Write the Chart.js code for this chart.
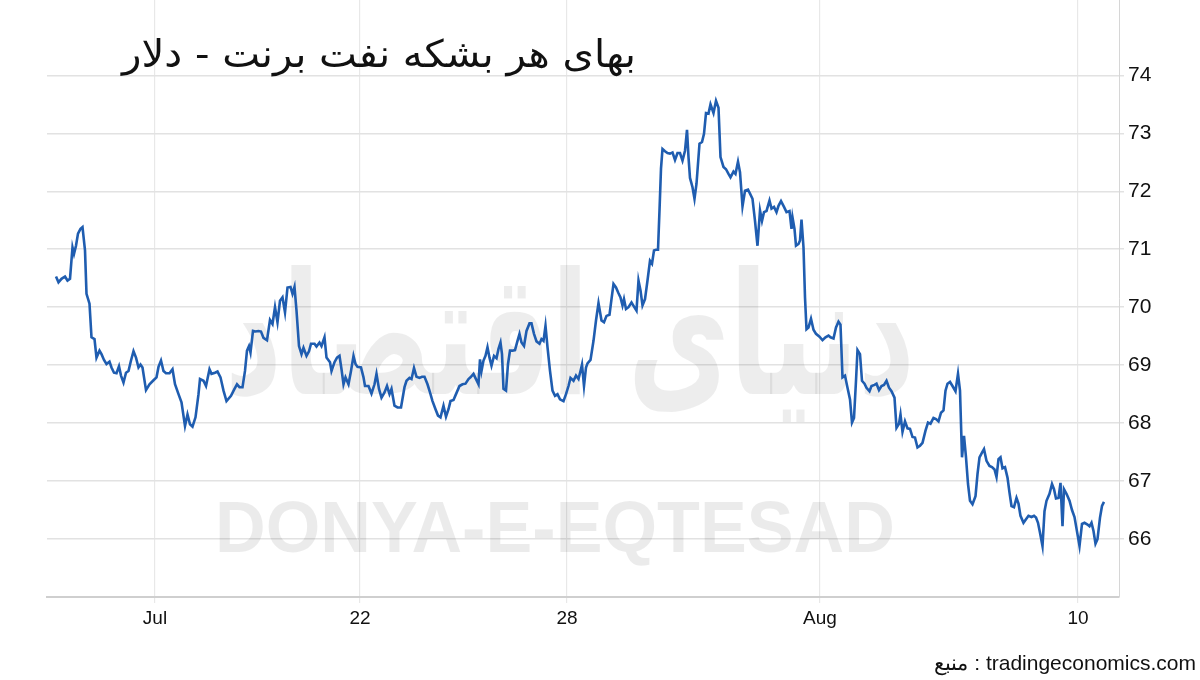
<!DOCTYPE html>
<html>
<head>
<meta charset="utf-8">
<script src="https://cdn.jsdelivr.net/npm/chart.js@4.4.1/dist/chart.umd.min.js"></script>
<style>
  html, body { margin: 0; padding: 0; background: #fff; }
  #wrap { width: 1200px; height: 680px; position: relative; }
</style>
</head>
<body>
<div id="wrap"><canvas id="myChart" width="1200" height="680"></canvas></div>
<script>
// time index (one unit ~ a few trading hours) and Brent price
const times = [
  0.2,0.7,1.3,2.0,2.5,3.0,3.5,3.8,4.2,4.6,5.1,5.5,6.0,6.3,6.9,7.3,7.9,8.3,8.9,9.3,9.8,10.3,10.9,11.3,11.8,12.3,12.8,13.2,13.7,14.2,14.7,15.2,15.7,16.2,16.7,17.1,17.5,18.2,18.9,19.7,
  20.3,20.7,21.2,21.7,22.2,22.9,23.5,24.0,24.7,25.3,26.0,26.5,27.0,27.5,28.1,28.7,29.0,29.7,30.2,30.9,31.3,32.0,32.5,33.1,33.7,34.3,35.2,35.9,36.4,36.9,
  37.5,38.0,38.4,38.8,39.1,39.6,40.1,40.7,41.2,41.7,42.4,43.0,43.5,44.0,44.5,45.0,45.5,46.0,46.5,47.1,47.5,47.9,48.3,48.8,49.3,49.7,50.3,50.8,51.2,51.9,
  52.3,52.9,53.3,53.9,54.3,55.0,55.3,55.9,56.4,56.9,57.3,57.7,58.1,58.7,59.2,59.7,60.1,60.5,61.2,61.7,62.0,62.7,63.3,63.9,64.3,64.8,65.3,65.9,66.4,66.9,
  67.3,67.9,68.5,69.2,69.9,70.3,70.9,71.3,71.8,72.3,72.9,73.4,73.9,74.5,75.0,75.5,76.1,76.6,77.1,77.7,78.2,78.7,79.1,79.7,80.2,80.9,81.5,82.1,82.7,83.1,
  83.7,84.2,84.7,85.0,85.3,85.7,86.1,86.5,86.9,87.3,87.8,88.3,88.7,89.1,89.4,89.7,90.2,90.6,91.0,91.5,92.0,92.5,92.9,93.3,93.8,94.3,94.9,95.3,95.8,96.3,
  96.9,97.3,97.7,98.1,98.5,99.0,99.5,100.0,100.5,101.0,101.7,102.2,102.7,103.1,103.7,104.2,104.7,105.1,105.4,105.8,106.2,106.5,107.1,107.7,108.2,108.7,109.3,109.8,110.3,110.9,
  111.3,111.7,112.2,112.7,113.1,113.5,113.8,114.2,114.7,115.3,115.8,116.3,116.7,117.1,117.5,118.0,118.5,119.0,119.4,119.8,120.2,120.6,120.9,121.2,121.5,122.0,122.5,123.0,123.5,124.0,
  124.5,125.0,125.5,126.0,126.4,126.7,127.0,127.5,127.9,128.3,128.9,129.4,129.8,130.2,130.7,131.1,131.7,132.2,132.7,133.1,133.7,134.2,134.7,135.1,135.7,136.1,136.6,137.0,137.5,138.0,
  138.6,139.0,139.5,140.0,140.5,141.0,141.4,141.8,142.3,142.9,143.3,143.8,144.3,144.7,145.2,145.8,146.3,146.9,147.3,147.5,147.9,148.2,148.7,149.0,149.3,149.7,150.0,150.3,150.7,151.2,
  151.7,152.2,152.9,153.5,154.1,154.7,155.1,155.7,156.2,156.7,157.1,157.5,158.0,158.5,159.0,159.4,159.8,160.2,160.5,161.0,161.4,161.9,162.3,162.9,163.3,163.9,164.3,164.8,165.3,165.8,
  166.3,166.8,167.3,167.9,168.3,168.8,169.1,169.5,170.0,170.5,171.0,171.5,172.0,172.5,173.0,173.5,174.1,174.6,175.1,175.7,176.2,176.7,177.2,177.7,178.1,178.5,179.0,179.5,180.1,180.6,
  181.0,181.4,181.8,182.2,182.6,183.0,183.5,184.1,184.5,184.9,185.4,185.8,186.3,186.9,187.4,187.9,188.3,188.7,189.1,189.5,190.0,190.5,190.9,191.3,191.8,192.3,192.7,193.1,193.7,194.2,
  194.7,195.3,195.8,196.2,196.6,197.0,197.5,197.9,198.3,198.9,199.4,199.8,200.2,200.7,201.1,201.5,201.8,202.3,202.9,203.4,203.9,204.5,204.9,205.4,205.9,206.5,206.9,207.3,207.7,208.1,
  208.5,209.0,209.4,209.8
];
const prices = [
  70.53,70.43,70.49,70.53,70.46,70.49,71.03,70.92,71.06,71.27,71.35,71.38,70.98,70.23,70.06,69.48,69.45,69.13,69.25,69.19,69.09,69.02,69.06,68.96,68.87,68.86,68.98,68.82,68.70,68.87,68.90,69.08,69.24,69.13,68.96,69.01,68.96,68.57,68.67,68.74,
  68.79,68.97,69.08,68.90,68.86,68.86,68.93,68.67,68.50,68.36,67.95,68.15,67.98,67.94,68.10,68.50,68.76,68.73,68.64,68.93,68.85,68.87,68.89,68.79,68.56,68.38,68.47,68.59,68.67,68.62,
  68.62,68.90,69.25,69.33,69.22,69.59,69.58,69.59,69.58,69.47,69.43,69.78,69.71,70.00,69.74,70.11,70.17,69.91,70.34,70.35,70.23,70.35,69.94,69.33,69.19,69.30,69.16,69.24,69.37,69.37,
  69.32,69.39,69.33,69.48,69.13,69.05,68.90,69.05,69.13,69.16,68.93,68.67,68.79,68.67,68.90,69.16,69.02,68.97,68.96,68.79,68.64,68.64,68.51,68.67,68.85,68.59,68.44,68.53,68.64,68.50,
  68.59,68.30,68.27,68.27,68.62,68.73,68.78,68.76,68.95,68.80,68.78,68.80,68.80,68.67,68.53,68.38,68.24,68.13,68.10,68.30,68.11,68.24,68.38,68.40,68.50,68.64,68.67,68.68,68.76,68.79,
  68.85,68.76,68.67,69.10,68.90,69.08,69.16,69.31,69.13,68.99,69.16,69.12,69.28,69.39,69.19,68.59,68.56,69.02,69.25,69.25,69.26,69.42,69.54,69.39,69.33,69.59,69.72,69.72,69.54,69.41,
  69.37,69.45,69.42,69.68,69.31,68.90,68.56,68.47,68.50,68.41,68.38,68.50,68.64,68.78,68.73,68.82,68.76,68.90,69.01,68.64,68.96,69.03,69.09,69.42,69.77,70.07,69.77,69.74,69.85,69.87,
  70.14,70.40,70.34,70.24,70.17,70.03,70.14,69.97,70.00,70.08,70.01,69.94,70.46,70.29,70.03,70.14,70.46,70.80,70.75,70.98,70.99,70.99,71.67,72.39,72.73,72.69,72.66,72.65,72.67,72.54,
  72.66,72.66,72.53,72.70,73.06,72.59,72.23,72.07,71.87,72.13,72.82,72.85,72.99,73.35,73.34,73.50,73.35,73.56,73.44,72.59,72.42,72.38,72.30,72.24,72.34,72.30,72.51,72.33,71.74,72.01,
  72.03,71.96,71.87,71.49,71.06,71.67,71.49,71.64,71.66,71.84,71.70,71.73,71.64,71.75,71.83,71.73,71.64,71.66,71.35,71.55,71.35,71.06,71.09,71.15,71.51,71.03,70.17,69.62,69.65,69.80,
  69.61,69.54,69.49,69.43,69.48,69.51,69.48,69.46,69.65,69.75,69.70,68.79,68.82,68.61,68.41,68.01,68.09,68.73,69.26,69.19,68.73,68.68,68.61,68.55,68.64,68.66,68.68,68.57,68.64,68.66,
  68.73,68.61,68.55,68.44,67.92,67.99,68.15,67.85,68.03,67.91,67.90,67.76,67.75,67.58,67.61,67.66,67.87,68.01,67.99,68.09,68.07,68.03,68.18,68.22,68.56,68.68,68.71,68.64,68.55,68.85,
  68.56,67.41,67.78,67.41,66.95,66.66,66.60,66.74,67.12,67.41,67.49,67.55,67.35,67.26,67.24,67.20,67.07,67.38,67.41,67.22,67.24,67.06,66.80,66.57,66.55,66.71,66.61,66.40,66.28,66.34,
  66.40,66.38,66.40,66.37,66.28,66.11,65.88,66.48,66.66,66.78,66.95,66.86,66.70,66.71,66.97,66.22,66.86,66.78,66.66,66.50,66.38,66.08,65.88,66.26,66.28,66.25,66.22,66.28,66.14,65.92,
  66.00,66.37,66.57,66.64
];
const tickPositions = [20, 61, 102.4, 153, 204.6];
const tickLabels = ['Jul', '22', '28', 'Aug', '10'];
const yTicks = [66, 67, 68, 69, 70, 71, 72, 73, 74];

const titleText = 'بهای هر بشکه نفت برنت - دلار';
const sourceText = 'منبع : tradingeconomics.com';

const narrow = "'Liberation Sans Narrow', 'Arial Narrow', 'Liberation Sans', Arial, sans-serif";

const decorations = {
  id: 'decorations',
  beforeDatasetsDraw(chart) {
    const ctx = chart.ctx;
    ctx.save();
    // watermark, persian logo
    ctx.fillStyle = 'rgba(0,0,0,0.07)';
    ctx.font = "bold 170px 'DejaVu Sans'";
    ctx.textAlign = 'center';
    ctx.textBaseline = 'middle';
    let w = ctx.measureText('دنیای اقتصاد').width;
    ctx.save();
    ctx.translate(570, 350);
    ctx.scale(690 / w, 1);
    ctx.fillText('دنیای اقتصاد', 0, 0);
    ctx.restore();
    // latin watermark
    ctx.fillStyle = 'rgba(0,0,0,0.08)';
    ctx.font = "bold 72px 'Liberation Sans', Arial";
    ctx.textBaseline = 'alphabetic';
    w = ctx.measureText('DONYA-E-EQTESAD').width;
    ctx.save();
    ctx.translate(555, 552);
    ctx.scale(680 / w, 1);
    ctx.fillText('DONYA-E-EQTESAD', 0, 0);
    ctx.restore();
    ctx.restore();
  },
  afterDraw(chart) {
    const ctx = chart.ctx;
    ctx.save();
    ctx.fillStyle = '#111';
    ctx.textAlign = 'right';
    ctx.textBaseline = 'alphabetic';
    ctx.font = "38px 'DejaVu Sans'";
    const w = ctx.measureText(titleText).width;
    ctx.save();
    ctx.translate(636, 67);
    ctx.scale(514 / w, 1);
    ctx.fillText(titleText, 0, 0);
    ctx.restore();
    ctx.font = "21px " + narrow;
    ctx.fillText(sourceText, 1196, 670);
    ctx.restore();
  }
};

new Chart('myChart', {
  type: 'line',
  data: {
    datasets: [{
      data: times.map((t, i) => ({ x: t, y: prices[i] })),
      borderColor: '#1f5db0',
      borderWidth: 2.6,
      pointRadius: 0,
      tension: 0,
      fill: false
    }]
  },
  options: {
    responsive: false,
    animation: false,
    layout: { padding: { left: 47, right: 0, top: 0, bottom: 0 } },
    plugins: {
      legend: { display: false },
      tooltip: { enabled: false }
    },
    scales: {
      x: {
        type: 'linear',
        min: -1.6,
        max: 212.8,
        afterBuildTicks: (s) => { s.ticks = tickPositions.map(v => ({ value: v })); },
        afterFit: (s) => { s.height = 83; s.paddingLeft = 0; s.paddingRight = 0; },
        ticks: {
          callback: (v) => tickLabels[tickPositions.indexOf(v)],
          color: '#111',
          font: { family: narrow, size: 19 },
          padding: 4,
          maxRotation: 0
        },
        grid: { color: '#e8e8e8', lineWidth: 1.2, tickLength: 6 },
        border: { color: '#cfcfcf', width: 2 }
      },
      y: {
        position: 'right',
        min: 65,
        max: 75.3,
        afterBuildTicks: (s) => { s.ticks = yTicks.map(v => ({ value: v })); },
        afterFit: (s) => { s.width = 81; s.paddingTop = 0; s.paddingBottom = 0; },
        ticks: {
          color: '#111',
          font: { family: "'Liberation Sans', Arial, sans-serif", size: 21 },
          padding: 4
        },
        grid: { color: '#e2e2e2', lineWidth: 1.5, tickLength: 5 },
        border: { color: '#d6d6d6', width: 1 }
      }
    }
  },
  plugins: [decorations]
});
</script>
</body>
</html>
